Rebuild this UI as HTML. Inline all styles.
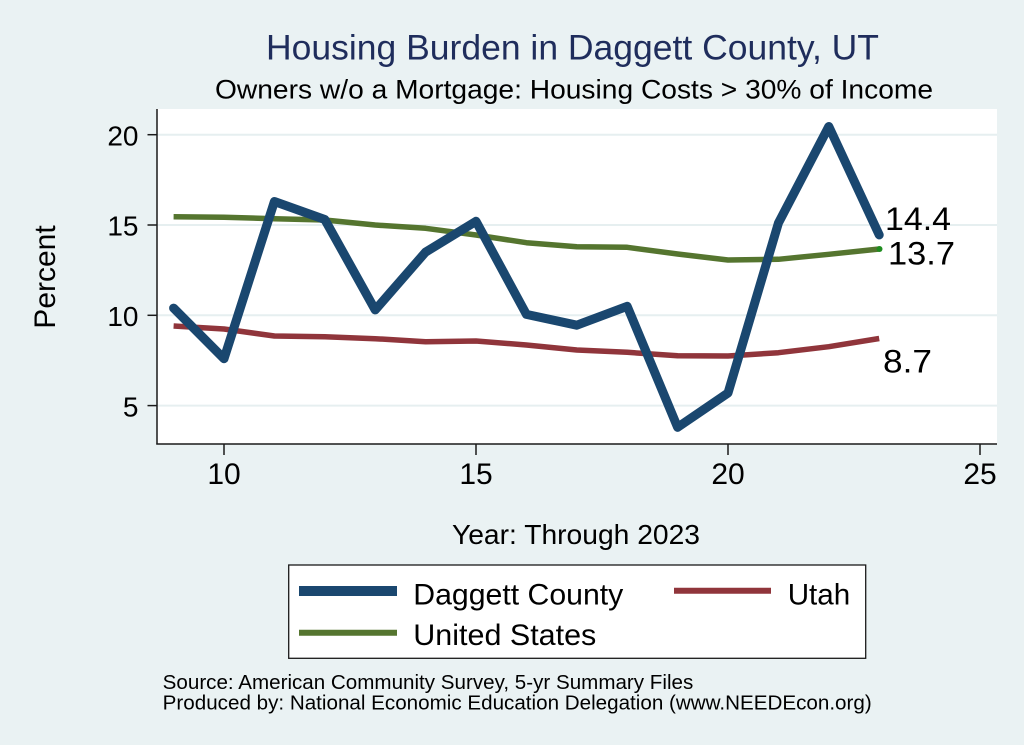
<!DOCTYPE html>
<html>
<head>
<meta charset="utf-8">
<style>
  html, body { margin: 0; padding: 0; background: #EAF2F3; }
  svg { display: block; }
  text { font-family: "Liberation Sans", Arial, Helvetica, sans-serif; }
</style>
</head>
<body>
<svg width="1024" height="745" viewBox="0 0 1024 745" xmlns="http://www.w3.org/2000/svg">
  <rect x="0" y="0" width="1024" height="745" fill="#EAF2F3"/>

  <!-- Titles -->
  <text x="266" y="59.5" font-size="35" fill="#1F2D5C" textLength="613" lengthAdjust="spacingAndGlyphs">Housing Burden in Daggett County, UT</text>
  <text x="215" y="98.5" font-size="27" fill="#000" textLength="718" lengthAdjust="spacingAndGlyphs">Owners w/o a Mortgage: Housing Costs &gt; 30% of Income</text>

  <!-- Plot region -->
  <rect x="157" y="109" width="840" height="335" fill="#FFFFFF"/>

  <!-- Gridlines -->
  <g stroke="#E6EFF0" stroke-width="2">
    <line x1="157" y1="134.7" x2="997" y2="134.7"/>
    <line x1="157" y1="225" x2="997" y2="225"/>
    <line x1="157" y1="315.3" x2="997" y2="315.3"/>
    <line x1="157" y1="405.6" x2="997" y2="405.6"/>
  </g>

  <!-- Axes -->
  <g stroke="#1a1a1a" stroke-width="1.5">
    <line x1="157" y1="109" x2="157" y2="444.5"/>
    <line x1="156.3" y1="444" x2="997" y2="444"/>
    <!-- y ticks -->
    <line x1="147.5" y1="134.7" x2="157" y2="134.7"/>
    <line x1="147.5" y1="225" x2="157" y2="225"/>
    <line x1="147.5" y1="315.3" x2="157" y2="315.3"/>
    <line x1="147.5" y1="405.6" x2="157" y2="405.6"/>
    <!-- x ticks -->
    <line x1="224" y1="444" x2="224" y2="455"/>
    <line x1="476" y1="444" x2="476" y2="455"/>
    <line x1="728" y1="444" x2="728" y2="455"/>
    <line x1="980" y1="444" x2="980" y2="455"/>
  </g>

  <!-- Y tick labels -->
  <g font-size="28" fill="#000" text-anchor="end">
    <text x="138.5" y="145.5">20</text>
    <text x="138.5" y="235.5">15</text>
    <text x="138.5" y="326">10</text>
    <text x="138.5" y="416.5">5</text>
  </g>

  <!-- X tick labels -->
  <g font-size="30" fill="#000" text-anchor="middle">
    <text x="224" y="484">10</text>
    <text x="476" y="484">15</text>
    <text x="728" y="484">20</text>
    <text x="980" y="484">25</text>
  </g>

  <!-- Axis titles -->
  <text transform="translate(55,277) rotate(-90)" font-size="30" fill="#000" text-anchor="middle">Percent</text>
  <text x="452" y="544" font-size="28" fill="#000" textLength="248" lengthAdjust="spacingAndGlyphs">Year: Through 2023</text>

  <!-- Series: Utah -->
  <polyline fill="none" stroke="#90353B" stroke-width="5.5" stroke-linejoin="round" stroke-linecap="butt"
    points="173.6,326 224,329 274.4,336 324.8,336.7 375.2,338.7 425.6,341.7 476,341 526.4,345 576.8,350 627.2,352.3 677.6,355.7 728,356 778.4,352.7 828.8,346.7 879.2,338.5"/>

  <!-- Series: United States -->
  <polyline fill="none" stroke="#55752F" stroke-width="5.5" stroke-linejoin="round" stroke-linecap="butt"
    points="173.6,216.7 224,217.3 274.4,218.7 324.8,220 375.2,225 425.6,228.3 476,235 526.4,242.7 576.8,246.7 627.2,247.3 677.6,254 728,260 778.4,259.3 828.8,254.3 879.2,249"/>

  <!-- Series: Daggett County -->
  <polyline fill="none" stroke="#1A476F" stroke-width="9" stroke-linejoin="round" stroke-linecap="round"
    points="173.6,308.1 224,358.7 274.4,201.5 324.8,219.5 375.2,309.9 425.6,252.1 476,221.3 526.4,314.4 576.8,325.2 627.2,306.3 677.6,427.3 728,393 778.4,223.1 828.8,126.5 879.2,234.9"/>

  <!-- endpoint marker -->
  <circle cx="879.5" cy="249" r="3" fill="#1E8C1E"/>

  <!-- End labels -->
  <g font-size="32" fill="#000">
    <text x="885" y="230" textLength="66" lengthAdjust="spacingAndGlyphs">14.4</text>
    <text x="888" y="264.3" textLength="67" lengthAdjust="spacingAndGlyphs">13.7</text>
    <text x="883" y="372.7" textLength="49" lengthAdjust="spacingAndGlyphs">8.7</text>
  </g>

  <!-- Legend -->
  <rect x="288.7" y="565" width="577" height="93.3" fill="#FFFFFF" stroke="#1a1a1a" stroke-width="1.3"/>
  <line x1="299" y1="591" x2="397" y2="591" stroke="#1A476F" stroke-width="10"/>
  <line x1="299" y1="632.7" x2="397" y2="632.7" stroke="#55752F" stroke-width="6"/>
  <line x1="674" y1="590.7" x2="771" y2="590.7" stroke="#90353B" stroke-width="6"/>
  <g font-size="30" fill="#000">
    <text x="413.3" y="604.3" textLength="210" lengthAdjust="spacingAndGlyphs">Daggett County</text>
    <text x="413.3" y="645" textLength="183" lengthAdjust="spacingAndGlyphs">United States</text>
    <text x="787.7" y="604.3" textLength="62.5" lengthAdjust="spacingAndGlyphs">Utah</text>
  </g>

  <!-- Footer notes -->
  <g font-size="20.5" fill="#000">
    <text x="162.7" y="689" textLength="530.6" lengthAdjust="spacingAndGlyphs">Source: American Community Survey, 5-yr Summary Files</text>
    <text x="162.7" y="709.3" textLength="709" lengthAdjust="spacingAndGlyphs">Produced by: National Economic Education Delegation (www.NEEDEcon.org)</text>
  </g>
</svg>
</body>
</html>
